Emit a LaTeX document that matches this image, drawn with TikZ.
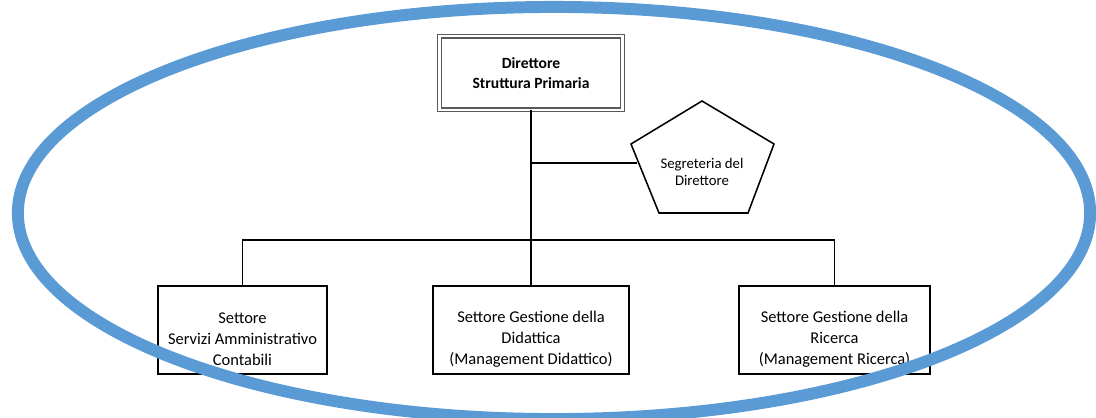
\documentclass[tikz,border=0pt]{standalone}
\usepackage{fontspec}
\setmainfont{Carlito}
\definecolor{ringblue}{HTML}{5B9BD5}
\begin{document}
\begin{tikzpicture}[x=0.025cm, y=-0.025cm,
  sector/.style={draw=black, line width=1.4pt, fill=white, minimum height=2.2cm},
  sectortext/.style={align=center, font=\fontsize{11.7}{14.9}\selectfont},
  link/.style={draw=black, line width=1.4pt}]
\useasboundingbox (0,0) rectangle (1096,418);

%director
\node[draw=black!65, line width=0.8pt, double=white, double distance=1.8pt, minimum width=4.575cm, minimum height=1.84cm, align=center, font=\fontsize{11.1}{14.2}\selectfont\bfseries] (dir) at (531,73) {Direttore\\Struttura Primaria};

%secretary
\draw[line width=1.1pt] (702,101) -- (774,144) -- (748,213) -- (659,213) -- (631,144) -- cycle;
\node[align=center, font=\fontsize{10.5}{12}\selectfont] (segr) at (702,172) {Segreteria del\\Direttore};
\coordinate (segin) at (637,163);

%sectors
\node[sector, minimum width=4.225cm] (amm) at (242.5,330) {};
\node[sector, minimum width=4.9cm] (did) at (531,330) {};
\node[sector, minimum width=4.775cm] (ric) at (834.5,330) {};
\node[sectortext] (ammtext) at (242.5,339) {Settore\\Servizi Amministrativo\\Contabili};
\node[sectortext] (didtext) at (531,339) {Settore Gestione della\\Didattica\\(Management Didattico)};
\node[sectortext] (rictext) at (834.5,339) {Settore Gestione della\\Ricerca\\(Management Ricerca)};

%links
\coordinate (bar) at (531,240);
\draw[link] (dir.south) -- (did.north);
\draw[link] (dir.south |- segin) -- (segin);
\draw[link] (amm.north) |- (bar) -| (ric.north);

%ring
\draw[ringblue, line width=8.5pt] (554,213) ellipse [x radius=13.4cm, y radius=5.15cm];
\end{tikzpicture}
\end{document}
